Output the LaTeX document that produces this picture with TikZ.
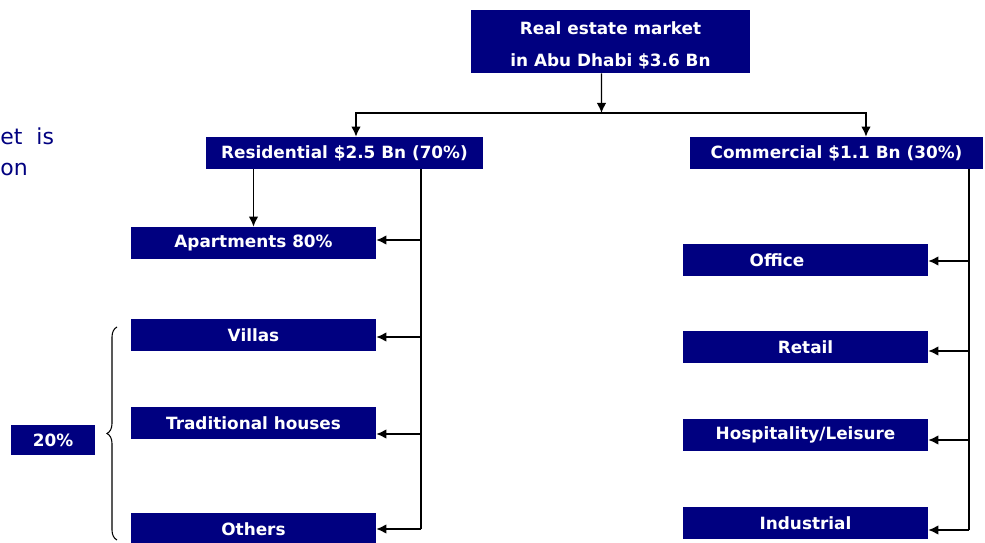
\documentclass[tikz,border=0pt]{standalone}
\usepackage{xcolor}
\usepackage{fontspec}
\setmainfont{DejaVu Sans}
\usepackage{tikz}
\usetikzlibrary{arrows, arrows.meta, shapes, calc, decorations.pathreplacing}
\definecolor{navy}{RGB}{0,0,128}
\tikzset{
  block/.style={fill=navy, text=white, font=\bfseries\fontsize{9.6}{18}\selectfont, inner sep=0pt, minimum height=0.64cm},
  leaf/.style={block, minimum width=4.9cm},
  link/.style={draw, line width=0.8pt, >={Latex[length=2mm,width=1.9mm]}}
}

\begin{document}
\begin{tikzpicture}[x=0.02cm, y=-0.02cm]
				\useasboundingbox (0,0) rectangle (985,543);
				\node[anchor=base west, inner sep=0pt, align=left, text=navy, font=\fontsize{12.5}{18}\selectfont] (lead) at (0,176) {et\ \ is\\on};
				% market and its two sectors
				\node[block, align=center, minimum width=5.6cm, minimum height=1.26cm] (market) at (610.5,41.5) {\rule{0pt}{11.8pt}Real estate market\\in Abu Dhabi \$3.6 Bn};
				\node[block, minimum width=5.54cm] (resid) at (344.5,153) {Residential \$2.5 Bn (70\%)};
				\node[block, minimum width=5.86cm] (comm) at (836.5,153) {Commercial \$1.1 Bn (30\%)};
				% residential split
				\node[leaf] (apart) at (253.5,243) {Apartments 80\%};
				\node[leaf] (villas) at (253.5,335) {Villas};
				\node[leaf] (trad) at (253.5,423) {Traditional houses};
				\node[leaf] (others) at (253.5,529) {Others};
				\node[block, minimum width=1.68cm, minimum height=0.6cm] (share) at (53,440) {20\%};
				\draw[decorate, decoration={brace, amplitude=0.2cm}, line width=0.6pt] (117,540) -- (117,327);
				% commercial split
				\node[leaf] (office) at (805.5,260) {Office\hspace*{1.14cm}};
				\node[leaf] (retail) at (805.5,347) {Retail};
				\node[leaf] (hosp) at (805.5,435) {Hospitality/Leisure};
				\node[leaf] (indus) at (805.5,523) {Industrial};
				% connectors
				\coordinate (bus) at (601.5,113);
				\draw[link, ->] ([xshift=-0.18cm]market.south) -- (bus);
				\draw[link, ->] (bus) -| ([xshift=0.23cm]resid.north);
				\draw[link, ->] (bus) -| ([xshift=0.59cm]comm.north);
				\draw[link, ->] (apart.north |- resid.south) -- (apart.north);
				\coordinate (lspine) at (421,529);
				\coordinate (rspine) at (969,530);
				\draw[link] (lspine |- resid.south) -- (lspine);
				\draw[link] (rspine |- comm.south) -- (rspine);
				\foreach \n/\dy in {apart/-3, villas/2, trad/11, others/0}
					\draw[link, ->] ($(lspine |- \n.east)+(0,\dy)$) -- ($(\n.east)+(0,\dy)$);
				\foreach \n/\dy in {office/1, retail/4, hosp/5, indus/7}
					\draw[link, ->] ($(rspine |- \n.east)+(0,\dy)$) -- ($(\n.east)+(0,\dy)$);
			\end{tikzpicture}
\end{document}
